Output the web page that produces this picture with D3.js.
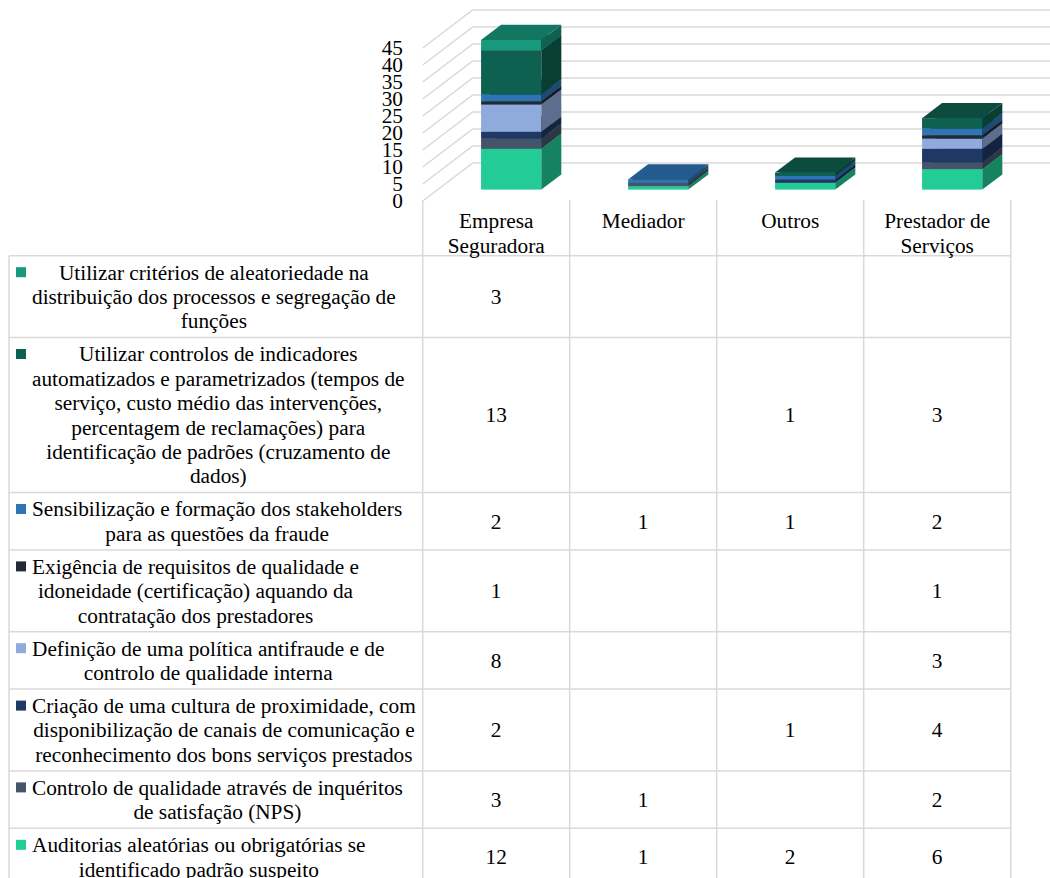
<!DOCTYPE html>
<html>
<head>
<meta charset="utf-8">
<script src="https://cdn.jsdelivr.net/npm/d3@7"></script>
<style>
body { margin: 0; background: #fff; }
svg text { font-family: "Liberation Serif", "Times New Roman", serif; font-size: 21.3px; fill: #000; }
</style>
</head>
<body>
<script>
// categories (table columns)
var categories = ["Empresa Seguradora", "Mediador", "Outros", "Prestador de Serviços"];
var categoryLines = [["Empresa", "Seguradora"], ["Mediador"], ["Outros"], ["Prestador de", "Serviços"]];

// series, in table order (top row = top of the stack)
var seriesLabels = [
    ["Utilizar critérios de aleatoriedade na", "distribuição dos processos e segregação de", "funções"],
    ["Utilizar controlos de indicadores", "automatizados e parametrizados (tempos de", "serviço, custo médio das intervenções,", "percentagem de reclamações) para", "identificação de padrões (cruzamento de", "dados)"],
    ["Sensibilização e formação dos stakeholders", "para as questões da fraude"],
    ["Exigência de requisitos de qualidade e", "idoneidade (certificação) aquando da", "contratação dos prestadores"],
    ["Definição de uma política antifraude e de", "controlo de qualidade interna"],
    ["Criação de uma cultura de proximidade, com", "disponibilização de canais de comunicação e", "reconhecimento dos bons serviços prestados"],
    ["Controlo de qualidade através de inquéritos", "de satisfação (NPS)"],
    ["Auditorias aleatórias ou obrigatórias se", "identificado padrão suspeito"]
];
var seriesColors = ["#17997D", "#0E6150", "#2E75B6", "#222A35", "#8FAADC", "#1F3864", "#44546A", "#23CC96"];

// values per series (null = empty cell)
var criterios = [3, null, null, null];
var controlos = [13, null, 1, 3];
var sensibilizacao = [2, 1, 1, 2];
var exigencia = [1, null, null, 1];
var definicao = [8, null, null, 3];
var proximidade = [2, null, 1, 4];
var inqueritos = [3, 1, null, 2];
var auditorias = [12, 1, 2, 6];

var seriesValues = [criterios, controlos, sensibilizacao, exigencia, definicao, proximidade, inqueritos, auditorias];
var yTicks = [0, 5, 10, 15, 20, 25, 30, 35, 40, 45];

var width = 1050, height = 878;

var svg = d3.select("body").append("svg")
    .attr("width", width)
    .attr("height", height);

var x = d3.scaleBand()
    .domain(categories)
    .range([422.7, 1010.7]);

var y = d3.scaleLinear()
    .domain([0, 45])
    .range([201, 48]);

// depth of the 3d box and position of bars inside it
var wallDx = 50, wallDy = -38;
var zFront = 0.3, zBack = 0.7;
var barWidth = x.bandwidth() * 0.41;
var gridColor = "#D9D9D9";

// side wall diagonals + back wall lines
var grid = svg.append("g")
    .attr("stroke", gridColor)
    .attr("stroke-width", 1.5)
    .attr("fill", "none");

grid.selectAll("path")
    .data(yTicks)
    .enter()
    .append("path")
    .attr("d", function (d) {
        var x0 = x.range()[0];
        return "M" + x0 + "," + y(d) +
            "L" + (x0 + wallDx) + "," + (y(d) + wallDy) +
            "L" + (width + 20) + "," + (y(d) + wallDy);
    });

// y axis labels
svg.append("g")
    .selectAll("text")
    .data(yTicks)
    .enter()
    .append("text")
    .attr("x", 403)
    .attr("y", function (d) { return y(d); })
    .attr("dy", "0.35em")
    .attr("text-anchor", "end")
    .text(function (d) { return d; });

// stack: bottom is the last table row
var rows = categories.map(function (c, i) {
    var r = { cat: c };
    seriesValues.forEach(function (s, k) { r["s" + k] = s[i] || 0; });
    return r;
});
var keys = d3.range(seriesValues.length).reverse().map(function (k) { return "s" + k; });
var stacked = d3.stack().keys(keys)(rows);

var fdx = zFront * wallDx, fdy = zFront * wallDy;
var bdx = (zBack - zFront) * wallDx, bdy = (zBack - zFront) * wallDy;

var bars = svg.append("g");

categories.forEach(function (c, i) {
    var g = bars.append("g");
    var cx = x(c) + x.bandwidth() / 2 + fdx;
    var x0 = cx - barWidth / 2, x1 = cx + barWidth / 2;
    stacked.forEach(function (layer) {
        var seg = layer[i];
        if (seg[1] - seg[0] <= 0) return;
        var k = +layer.key.slice(1);
        var col = d3.color(seriesColors[k]);
        var yb = y(seg[0]) + fdy, yt = y(seg[1]) + fdy;
        // front face
        g.append("rect")
            .attr("x", x0)
            .attr("y", yt)
            .attr("width", barWidth)
            .attr("height", yb - yt)
            .attr("fill", col);
        // side face
        g.append("path")
            .attr("d", "M" + x1 + "," + yb + "L" + x1 + "," + yt +
                "L" + (x1 + bdx) + "," + (yt + bdy) + "L" + (x1 + bdx) + "," + (yb + bdy) + "Z")
            .attr("fill", col.darker(1.25));
        // top face
        g.append("path")
            .attr("d", "M" + x0 + "," + yt + "L" + x1 + "," + yt +
                "L" + (x1 + bdx) + "," + (yt + bdy) + "L" + (x0 + bdx) + "," + (yt + bdy) + "Z")
            .attr("fill", col.darker(0.7));
    });
});

// data table
var lineH = 24.4, rowPad = 8.6;
var tableTop = 255.7, tableLeft = 9;
var rowTops = [];
var acc = tableTop;
seriesLabels.forEach(function (lines) {
    rowTops.push(acc);
    acc += lines.length * lineH + rowPad;
});
rowTops.push(acc);

var tbl = svg.append("g")
    .attr("stroke", gridColor)
    .attr("stroke-width", 1.5);

// horizontal lines
tbl.selectAll("line.h")
    .data(rowTops)
    .enter()
    .append("line")
    .attr("x1", tableLeft)
    .attr("x2", x.range()[1])
    .attr("y1", function (d) { return d; })
    .attr("y2", function (d) { return d; });

// column lines (start at the floor)
var colEdges = categories.map(function (c) { return x(c); }).concat([x.range()[1]]);
tbl.selectAll("line.v")
    .data(colEdges)
    .enter()
    .append("line")
    .attr("x1", function (d) { return d; })
    .attr("x2", function (d) { return d; })
    .attr("y1", y(0) - 1)
    .attr("y2", acc);

tbl.append("line")
    .attr("x1", tableLeft)
    .attr("x2", tableLeft)
    .attr("y1", tableTop)
    .attr("y2", acc);

// header labels
categories.forEach(function (c, i) {
    categoryLines[i].forEach(function (t, j) {
        svg.append("text")
            .attr("x", x(c) + x.bandwidth() / 2)
            .attr("y", 221 + j * lineH)
            .attr("dy", "0.35em")
            .attr("text-anchor", "middle")
            .text(t);
    });
});

// legend cells + values
seriesLabels.forEach(function (lines, k) {
    var top = rowTops[k], bottom = rowTops[k + 1];
    var mid = (top + bottom) / 2;
    var firstY = mid - (lines.length - 1) * lineH / 2;

    svg.append("rect")
        .attr("x", 16)
        .attr("y", firstY - 5)
        .attr("width", 10)
        .attr("height", 10)
        .attr("fill", seriesColors[k]);

    var texts = lines.map(function (t, j) {
        return svg.append("text")
            .attr("y", firstY + j * lineH)
            .attr("dy", "0.35em")
            .attr("text-anchor", "middle")
            .text(t);
    });
    var w = d3.max(texts, function (t) { return t.node().getComputedTextLength(); });
    texts.forEach(function (t) { t.attr("x", 32 + w / 2); });

    categories.forEach(function (c, i) {
        var v = seriesValues[k][i];
        if (v == null) return;
        svg.append("text")
            .attr("x", x(c) + x.bandwidth() / 2)
            .attr("y", mid)
            .attr("dy", "0.35em")
            .attr("text-anchor", "middle")
            .text(v);
    });
});
</script>
</body>
</html>
